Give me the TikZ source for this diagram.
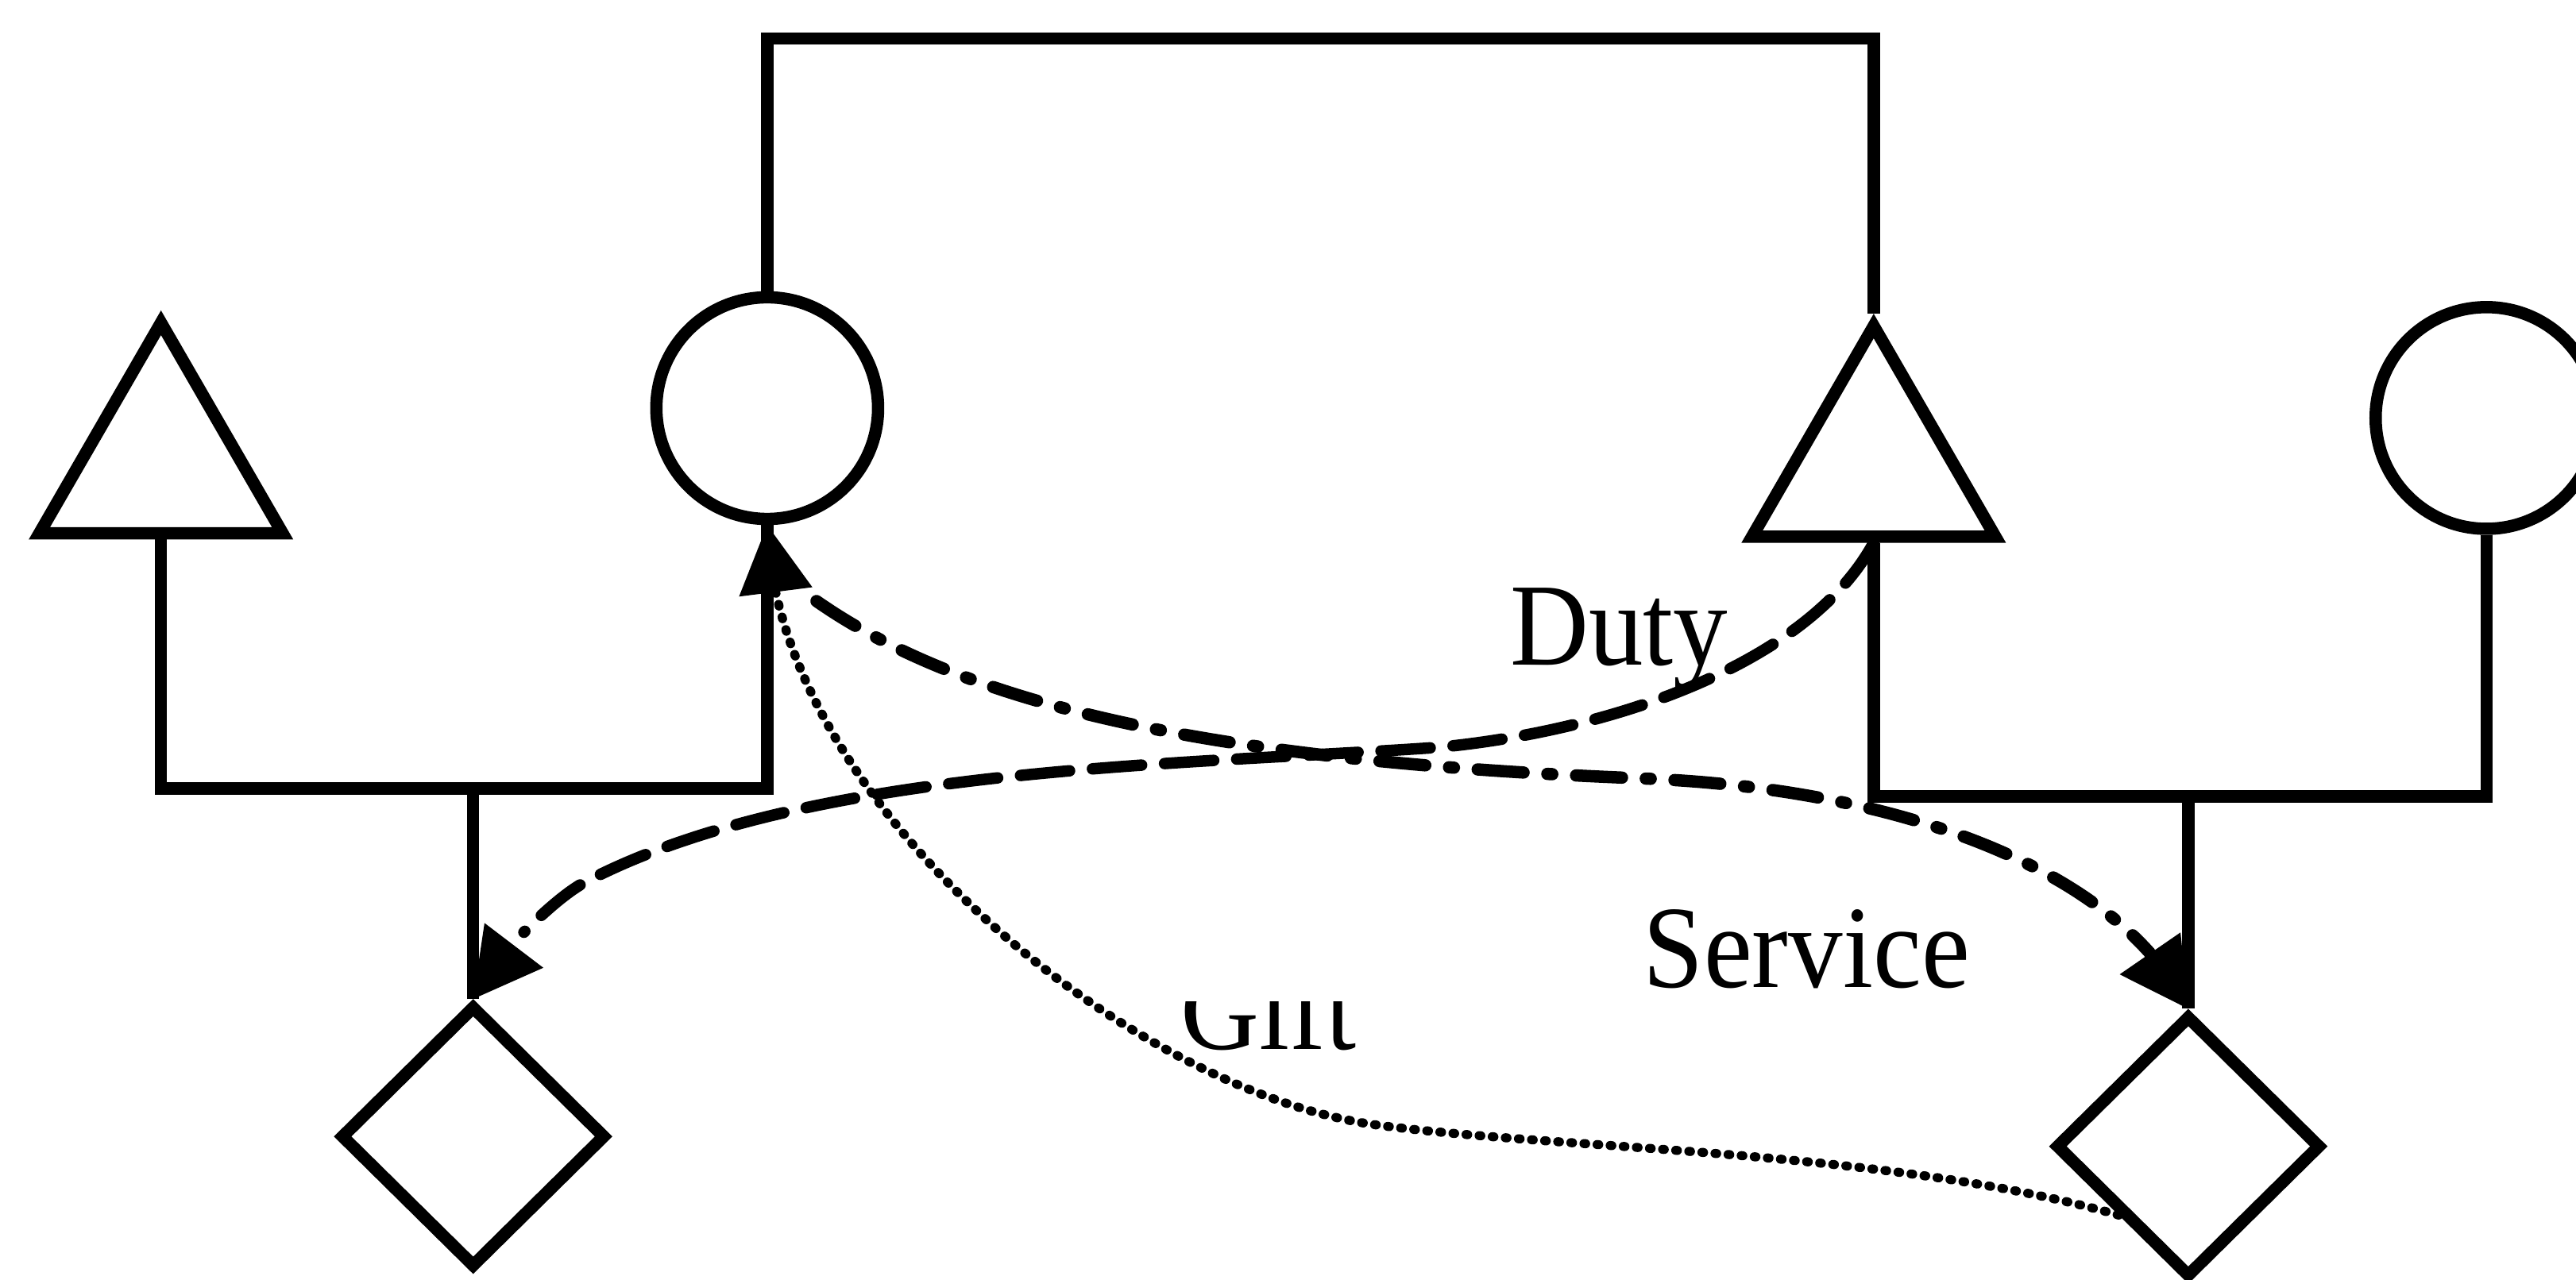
\documentclass[tikz,border=0pt]{standalone}
\usepackage{fontspec}
\setmainfont{Liberation Serif}
\usetikzlibrary{shapes.geometric,arrows.meta,bending}
\newcommand{\tallword}[1]{\scalebox{1}[1.08]{#1}}
\begin{document}
\begin{tikzpicture}[x=0.02cm, y=-0.02cm,
  kin/.style={line width=0.15cm},
  tri/.style={draw, line width=0.15cm, regular polygon, regular polygon sides=3,
              minimum size=3.42cm, inner sep=0pt},
  circ/.style={draw, line width=0.15cm, circle, minimum size=2.7cm, inner sep=0pt},
  diam/.style={draw, line width=0.15cm, diamond, minimum width=3.24cm,
               minimum height=3.2cm, inner sep=0pt},
  lbl/.style={font=\fontsize{37.7}{40}\selectfont, inner sep=0pt, anchor=base west},
  headed/.style={-{Triangle[length=0.82cm, width=0.9cm, line width=0pt]}},
  dutyline/.style={headed, line width=0.14cm, line cap=round,
                   dash pattern=on 0.6cm off 0.28cm},
  serviceline/.style={headed, line width=0.15cm, line cap=round,
                      dash pattern=on 0.56cm off 0.29cm on 0.06cm off 0.29cm},
  giftline/.style={headed, line width=0.11cm, line cap=round,
                   dash pattern=on 0.02cm off 0.14cm}]

\useasboundingbox (0,0) rectangle (1568,779);
\clip (0,0) rectangle (1568,779);

% individuals: males as triangles, females as circles, children as diamonds
\node[tri]  (lt) at (98,282) {};
\node[circ] (lc) at (467,248.5) {};
\node[tri]  (rt) at (1140.5,284) {};
\node[circ] (rc) at (1513.5,254.5) {};
\node[diam] (ld) at (288,692) {};
\node[diam] (rd) at (1332,698) {};

% levels of the kinship bars
\coordinate (topbar) at (0,23.5);
\coordinate (famL) at (0,480);
\coordinate (famR) at (0,485);
\coordinate (ltfoot) at (lt.side 2);
\coordinate (rtfoot) at (rt.side 2);
\coordinate (svcfrom) at (497,366);

% kinship lines
\draw[kin] (lc.north) -- (lc.north |- topbar) -| (rt.corner 1);
\draw[kin] (ltfoot) -- (ltfoot |- famL) -| (lc.south);
\draw[kin] (ld.north) -- (ld.north |- famL);
\draw[kin] (rtfoot) -- (rtfoot |- famR) -| (rc.south);
\draw[kin] (rd.north) -- (rd.north |- famR);

% exchanges
\draw[giftline] (rd.south west) .. controls (1150,700) and (950,700) .. (838,685)
      .. controls (688,665) and (472,488) .. (lc.south);
\draw[serviceline] (svcfrom) .. controls (591.5,432) and (746,464) .. (1000,474)
      .. controls (1152,480) and (1288,527) .. (rd.north);
\draw[dutyline] (rtfoot) .. controls (1100,405) and (980,445) .. (876,455)
      .. controls (720,466) and (490,466) .. (354.5,538)
      .. controls (335,549) and (296.5,587.5) .. (ld.north);

% labels
\node[lbl] (duty) at (919,405) {\tallword{Duty}};
\node[lbl] (service) at (1000,601) {\tallword{Service}};
\begin{scope}
  \clip (600,610) rectangle (900,700);
  \node[lbl] (gift) at (718.5,639) {\tallword{Gift}};
\end{scope}
\end{tikzpicture}
\end{document}
